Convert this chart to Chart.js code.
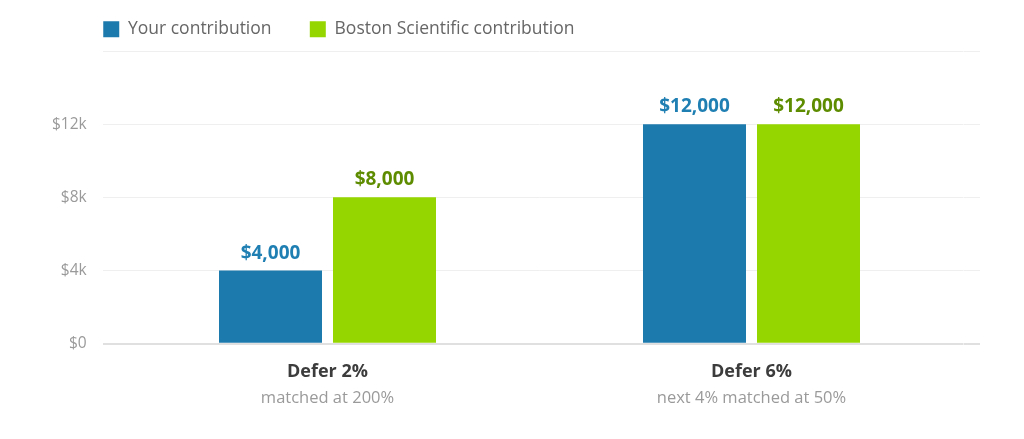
<!DOCTYPE html>
<html>
<head>
<meta charset="utf-8">
<script src="https://cdn.jsdelivr.net/npm/chart.js@4"></script>
<style>
  html, body { margin: 0; padding: 0; background: #fff; }
  #wrap { width: 1024px; height: 439px; position: relative; }
</style>
</head>
<body>
<div id="wrap"><canvas id="myChart"></canvas></div>
<script>
var categorias = ['Defer 2%', 'Defer 6%'];
var subtitulos = ['matched at 200%', 'next 4% matched at 50%'];
var tuAporte = [4000, 12000];
var aporteEmpresa = [8000, 12000];
var ticksY = [0, 4000, 8000, 12000, 16000];
var etiquetasY = ['$0', '$4k', '$8k', '$12k', ''];

var azul = '#1c7aad';
var verde = '#95d600';
var fuente = "'Open Sans', 'Noto Sans', sans-serif";

function formatoDinero(v) {
  return '$' + v.toLocaleString('en-US');
}

function colorGrid(ctx) {
  return ctx.tick && ctx.tick.value === 0 ? '#e0e0e0' : '#efefef';
}
function anchoGrid(ctx) {
  return ctx.tick && ctx.tick.value === 0 ? 2 : 1;
}

// value labels above each bar
var etiquetasBarras = {
  id: 'etiquetasBarras',
  afterDatasetsDraw: function(chart) {
    var ctx = chart.ctx;
    ctx.save();
    ctx.font = 'bold 19px ' + fuente;
    ctx.textAlign = 'center';
    ctx.textBaseline = 'alphabetic';
    chart.data.datasets.forEach(function(ds, i) {
      var meta = chart.getDatasetMeta(i);
      meta.data.forEach(function(el, j) {
        ctx.fillStyle = ds.labelColor;
        ctx.fillText(formatoDinero(ds.data[j]), el.x, el.y - 12);
      });
    });
    ctx.restore();
  }
};

// legend lines up with the grid lines, not the canvas edge
var moverLeyenda = {
  id: 'moverLeyenda',
  afterLayout: function(chart) {
    if (chart.legend) {
      chart.legend.left = 65;
    }
  }
};

var ctx = document.getElementById('myChart').getContext('2d');
var myChart = new Chart(ctx, {
  type: 'bar',
  data: {
    labels: categorias,
    datasets: [{
      label: 'Your contribution',
      data: tuAporte,
      backgroundColor: azul,
      labelColor: '#1f7fb3',
      categoryPercentage: 0.5377,
      barPercentage: 0.9035
    }, {
      label: 'Boston Scientific contribution',
      data: aporteEmpresa,
      backgroundColor: verde,
      labelColor: '#5e8c00',
      categoryPercentage: 0.5377,
      barPercentage: 0.9035
    }]
  },
  options: {
    responsive: true,
    maintainAspectRatio: false,
    animation: false,
    layout: {
      padding: { left: 35, right: 44, top: -17.75, bottom: 25.8 }
    },
    plugins: {
      legend: {
        position: 'top',
        align: 'start',
        labels: {
          boxWidth: 16,
          boxHeight: 16,
          padding: 38.25,
          color: '#666',
          font: { family: fuente, size: 17.5 }
        }
      },
      title: {
        display: true,
        text: '',
        weight: 500,
        padding: 0,
        font: { size: 3, lineHeight: 1 }
      },
      tooltip: { enabled: false }
    },
    scales: {
      x: {
        type: 'category',
        offset: true,
        weight: 0,
        afterFit: function(scale) { scale.height = 39.1; },
        grid: { display: false, drawTicks: false },
        border: { display: false },
        ticks: {
          padding: 17.5,
          color: '#3c3c3c',
          font: { family: fuente, size: 18, weight: 'bold' }
        }
      },
      x2: {
        type: 'category',
        position: 'bottom',
        offset: true,
        weight: 1,
        grid: { display: false, drawTicks: false },
        border: { display: false },
        ticks: {
          padding: 5.3,
          color: '#9a9a9a',
          font: { family: fuente, size: 16.5 },
          callback: function(v, i) { return subtitulos[i]; }
        }
      },
      y: {
        min: ticksY[0],
        max: ticksY[ticksY.length - 1],
        afterBuildTicks: function(scale) {
          scale.ticks = ticksY.map(function(v) { return { value: v }; });
        },
        afterFit: function(scale) { scale.width = 80.5; },
        grid: { color: colorGrid, lineWidth: anchoGrid, tickLength: 12.5 },
        border: { display: false },
        ticks: {
          padding: 16.3,
          color: '#9a9a9a',
          font: { family: fuente, size: 15.5 },
          callback: function(v) { return etiquetasY[ticksY.indexOf(v)]; }
        }
      },
      y2: {
        position: 'right',
        min: ticksY[0],
        max: ticksY[ticksY.length - 1],
        afterBuildTicks: function(scale) {
          scale.ticks = ticksY.map(function(v) { return { value: v }; });
        },
        afterFit: function(scale) { scale.width = 16.5; },
        grid: { drawOnChartArea: false, color: colorGrid, lineWidth: anchoGrid, tickLength: 16.5 },
        border: { display: false },
        ticks: { display: false }
      }
    }
  },
  plugins: [etiquetasBarras, moverLeyenda]
});
</script>
</body>
</html>
